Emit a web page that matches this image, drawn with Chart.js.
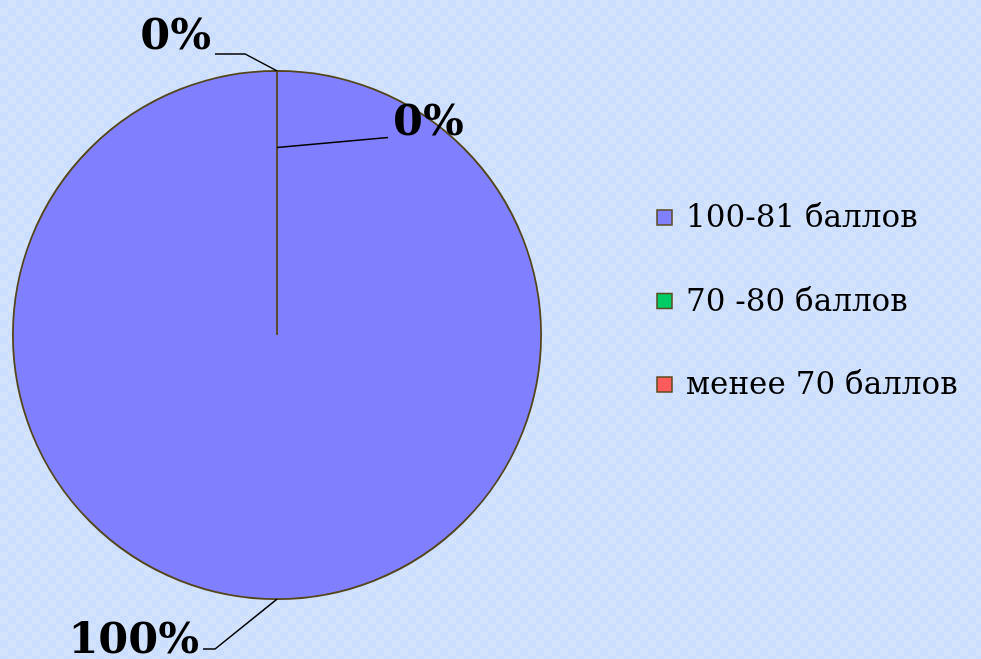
<!DOCTYPE html>
<html>
<head>
<meta charset="utf-8">
<script src="https://cdn.jsdelivr.net/npm/chart.js@4.4.1/dist/chart.umd.min.js"></script>
<style>
  html, body { margin: 0; padding: 0; }
  body {
    width: 981px; height: 659px; overflow: hidden;
    background-color: #cfe0fd;
    background-image: repeating-conic-gradient(#d4e3fc 0 25%, #ccdefd 0 50%);
    background-size: 16px 16px;
  }
  #wrap { position: relative; width: 981px; height: 659px; }
</style>
</head>
<body>
<div id="wrap"><canvas id="graficoBallov" width="981" height="659"></canvas></div>
<script>
// dados do gráfico
const categorias = ['100-81 баллов', '70 -80 баллов', 'менее 70 баллов']
const valores = [100, 0, 0]
const rotulos = ['100%', '0%', '0%']
const cores = ['#8080ff', '#00cc66', '#ff5b5b']

// rótulos com linha guia (posição relativa ao arco)
const guias = [
    { r: 1.0, elbow: [-62, 50], fim: [-74, 50], texto: [-78, 54], align: 'right' },
    { r: 1.0, elbow: [-32, -17], fim: [-62, -17], texto: [-66, -22], align: 'right' },
    { r: 0.71, elbow: [111, -10], fim: [111, -10], texto: [116, -12], align: 'left' }
]

const pluginRotulos = {
    id: 'rotulos',
    afterDatasetsDraw(chart) {
        const ctx = chart.ctx
        const arcs = chart.getDatasetMeta(0).data
        ctx.save()
        ctx.strokeStyle = '#000'
        ctx.lineWidth = 1.5
        ctx.fillStyle = '#000'
        ctx.font = 'bold 43px "DejaVu Serif"'
        ctx.textBaseline = 'alphabetic'
        arcs.forEach(function (arc, i) {
            const g = guias[i]
            const meio = (arc.startAngle + arc.endAngle) / 2
            const ax = arc.x + Math.cos(meio) * arc.outerRadius * g.r
            const ay = arc.y + Math.sin(meio) * arc.outerRadius * g.r
            ctx.beginPath()
            ctx.moveTo(ax, ay)
            ctx.lineTo(ax + g.elbow[0], ay + g.elbow[1])
            ctx.lineTo(ax + g.fim[0], ay + g.fim[1])
            ctx.stroke()
            ctx.textAlign = g.align
            ctx.fillText(rotulos[i], ax + g.texto[0], ay + g.texto[1])
        })
        ctx.restore()
    }
}

const pluginLegenda = {
    id: 'legenda',
    afterDraw(chart) {
        const ctx = chart.ctx
        const x0 = 657
        const y0 = 218
        const passo = 83.5
        ctx.save()
        ctx.font = '31px "DejaVu Serif"'
        ctx.textBaseline = 'middle'
        ctx.textAlign = 'left'
        chart.data.labels.forEach(function (nome, i) {
            const y = y0 + i * passo
            ctx.fillStyle = chart.data.datasets[0].backgroundColor[i]
            ctx.fillRect(x0, y - 8, 15, 15)
            ctx.strokeStyle = '#5a4a1e'
            ctx.lineWidth = 1.5
            ctx.strokeRect(x0, y - 8, 15, 15)
            ctx.fillStyle = '#000'
            ctx.fillText(nome, x0 + 29, y + 1)
        })
        ctx.restore()
    }
}

const graficoBallov = document.getElementById('graficoBallov')

new Chart(graficoBallov, {
    type: 'pie',
    data: {
        labels: categorias,
        datasets: [
            {
                data: valores,
                backgroundColor: cores,
                borderColor: '#54461a',
                borderWidth: 1.8
            }
        ]
    },
    options: {
        responsive: false,
        animation: false,
        events: [],
        layout: {
            padding: { left: 12, right: 439, top: 70, bottom: 59 }
        },
        plugins: {
            legend: { display: false },
            tooltip: { enabled: false }
        }
    },
    plugins: [pluginRotulos, pluginLegenda]
})
</script>
</body>
</html>
